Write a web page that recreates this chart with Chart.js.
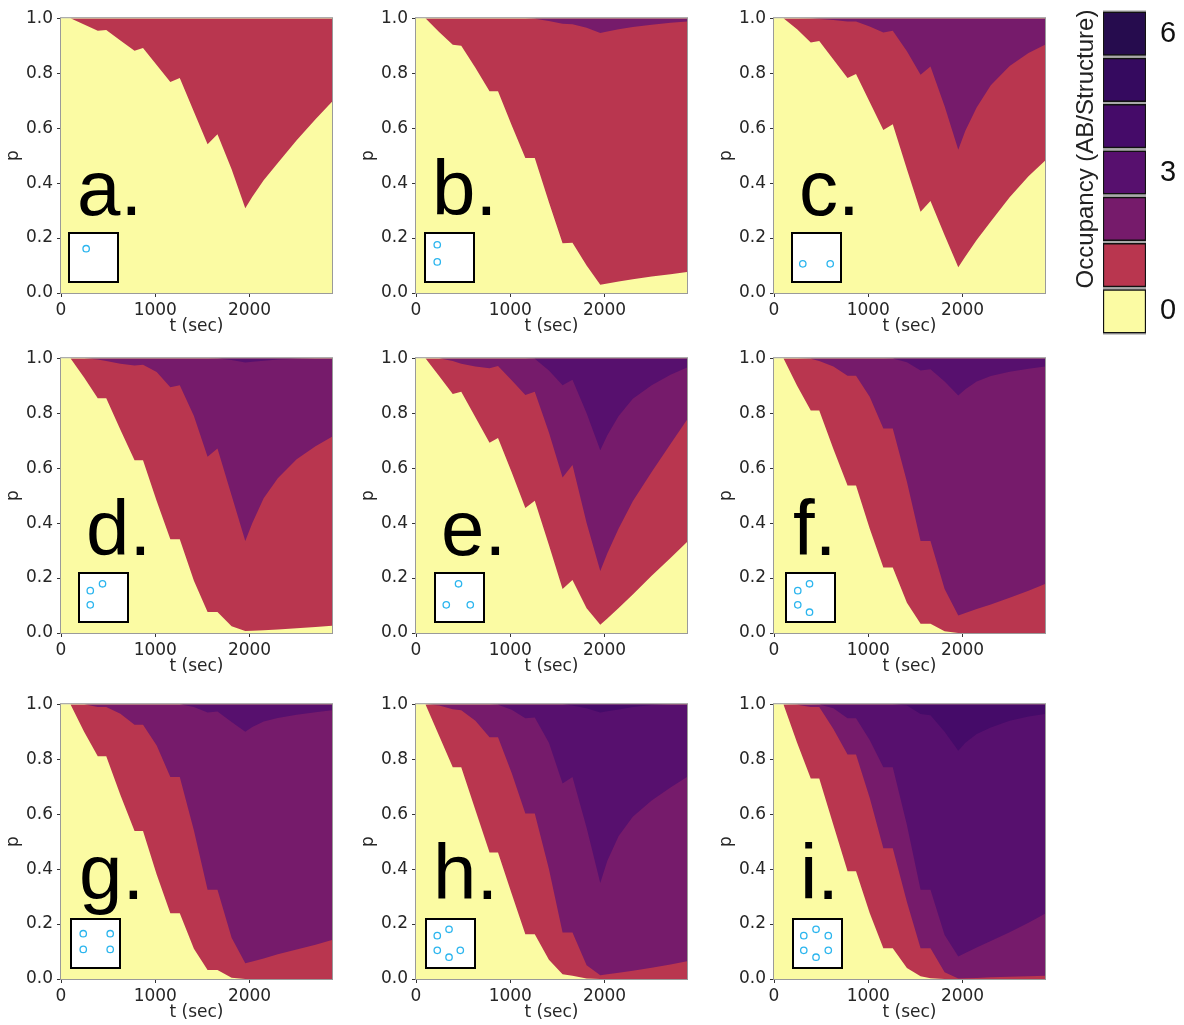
<!DOCTYPE html>
<html>
<head>
<meta charset="utf-8">
<script src="https://cdn.jsdelivr.net/npm/chart.js@4.4.0/dist/chart.umd.min.js"></script>
<style>
body { margin: 0; background: #fff; width: 1184px; height: 1025px; position: relative; overflow: hidden; }
canvas { position: absolute; }
</style>
</head>
<body>
<script>
// time grid shared by every boundary curve (sec)
const times = [0, 100, 245, 390, 480, 630, 780, 870, 1015, 1160, 1260, 1410, 1555, 1660, 1810, 1955, 2030, 2150, 2300, 2500, 2700, 2875];

// p at which occupancy steps up to k (region above the curve has occupancy >= k)
const a1 = [1, 1, 0.977, 0.954, 0.957, 0.919, 0.882, 0.892, 0.830, 0.768, 0.782, 0.66, 0.541, 0.578, 0.45, 0.308, 0.35, 0.41, 0.473, 0.556, 0.632, 0.696];

const b1 = [1, 1, 0.95, 0.903, 0.900, 0.82, 0.734, 0.734, 0.61, 0.491, 0.491, 0.33, 0.181, 0.183, 0.10, 0.030, 0.035, 0.042, 0.05, 0.06, 0.068, 0.076];
const b2 = [1, 1, 1, 1, 1, 1, 1, 1, 1, 1, 0.998, 0.99, 0.98, 0.978, 0.965, 0.946, 0.952, 0.96, 0.968, 0.976, 0.983, 0.988];

const c1 = [1, 1, 0.96, 0.912, 0.917, 0.85, 0.782, 0.797, 0.695, 0.593, 0.614, 0.45, 0.296, 0.335, 0.21, 0.094, 0.133, 0.193, 0.26, 0.348, 0.425, 0.481];
const c2 = [1, 1, 1, 0.999, 0.997, 0.993, 0.988, 0.988, 0.97, 0.948, 0.954, 0.88, 0.794, 0.824, 0.68, 0.521, 0.59, 0.675, 0.756, 0.826, 0.873, 0.903];

const d1 = [1, 1, 0.93, 0.854, 0.854, 0.74, 0.629, 0.629, 0.48, 0.341, 0.341, 0.19, 0.076, 0.076, 0.025, 0.007, 0.008, 0.01, 0.013, 0.017, 0.022, 0.026];
const d2 = [1, 1, 1, 0.995, 0.99, 0.98, 0.973, 0.976, 0.95, 0.894, 0.902, 0.79, 0.641, 0.671, 0.50, 0.335, 0.40, 0.49, 0.563, 0.632, 0.68, 0.714];
const d3 = [1, 1, 1, 1, 1, 1, 1, 1, 1, 1, 1, 1, 1, 0.999, 0.993, 0.984, 0.987, 0.991, 0.995, 0.998, 1, 1];

const e1 = [1, 1, 0.935, 0.870, 0.878, 0.785, 0.692, 0.710, 0.585, 0.455, 0.481, 0.32, 0.160, 0.193, 0.09, 0.030, 0.053, 0.091, 0.14, 0.208, 0.273, 0.331];
const e2 = [1, 1, 1, 0.99, 0.98, 0.97, 0.963, 0.972, 0.92, 0.866, 0.878, 0.73, 0.566, 0.611, 0.40, 0.226, 0.29, 0.38, 0.479, 0.586, 0.688, 0.776];
const e3 = [1, 1, 1, 1, 1, 1, 1, 1, 1, 1, 0.998, 0.955, 0.902, 0.922, 0.80, 0.665, 0.72, 0.79, 0.852, 0.902, 0.94, 0.966];

const f1 = [1, 1, 0.9, 0.81, 0.81, 0.67, 0.537, 0.537, 0.38, 0.238, 0.238, 0.11, 0.034, 0.034, 0.006, 0, 0, 0, 0, 0, 0, 0];
const f2 = [1, 1, 1, 0.998, 0.99, 0.97, 0.936, 0.936, 0.86, 0.744, 0.744, 0.55, 0.335, 0.335, 0.16, 0.064, 0.073, 0.087, 0.104, 0.128, 0.154, 0.178];
const f3 = [1, 1, 1, 1, 1, 1, 1, 1, 1, 1, 0.999, 0.985, 0.955, 0.96, 0.915, 0.864, 0.887, 0.915, 0.935, 0.951, 0.962, 0.97];

const g1 = [1, 1, 0.9, 0.811, 0.811, 0.67, 0.539, 0.539, 0.38, 0.239, 0.239, 0.11, 0.033, 0.033, 0.005, 0, 0, 0, 0, 0, 0, 0];
const g2 = [1, 1, 1, 0.99, 0.99, 0.965, 0.925, 0.925, 0.85, 0.735, 0.735, 0.54, 0.325, 0.325, 0.15, 0.057, 0.064, 0.075, 0.09, 0.107, 0.125, 0.142];
const g3 = [1, 1, 1, 1, 1, 1, 1, 1, 1, 1, 1, 0.99, 0.97, 0.973, 0.935, 0.9, 0.917, 0.937, 0.95, 0.962, 0.971, 0.978];

const h1 = [1, 1, 0.885, 0.771, 0.771, 0.615, 0.46, 0.46, 0.31, 0.163, 0.163, 0.07, 0.017, 0.012, 0.002, 0, 0, 0, 0, 0, 0, 0];
const h2 = [1, 1, 0.995, 0.982, 0.978, 0.94, 0.88, 0.88, 0.75, 0.602, 0.602, 0.40, 0.169, 0.169, 0.05, 0.014, 0.017, 0.023, 0.03, 0.041, 0.053, 0.065];
const h3 = [1, 1, 1, 1, 1, 1, 1, 0.998, 0.98, 0.949, 0.952, 0.86, 0.711, 0.735, 0.55, 0.349, 0.43, 0.52, 0.59, 0.65, 0.697, 0.735];
const h4 = [1, 1, 1, 1, 1, 1, 1, 1, 1, 1, 1, 1, 1, 0.995, 0.985, 0.97, 0.974, 0.981, 0.99, 0.997, 1, 1];

const i1 = [1, 1, 0.86, 0.73, 0.73, 0.56, 0.392, 0.392, 0.24, 0.112, 0.112, 0.04, 0.01, 0.003, 0, 0, 0, 0, 0, 0, 0, 0];
const i2 = [1, 1, 0.998, 0.99, 0.99, 0.91, 0.817, 0.817, 0.66, 0.476, 0.476, 0.28, 0.112, 0.112, 0.025, 0.002, 0.003, 0.004, 0.006, 0.008, 0.01, 0.012];
const i3 = [1, 1, 1, 1, 0.999, 0.985, 0.949, 0.949, 0.87, 0.771, 0.771, 0.56, 0.325, 0.325, 0.16, 0.082, 0.095, 0.115, 0.138, 0.17, 0.205, 0.237];
const i4 = [1, 1, 1, 1, 1, 1, 1, 1, 1, 1, 1, 0.995, 0.964, 0.96, 0.9, 0.831, 0.86, 0.892, 0.915, 0.94, 0.955, 0.964];

const panelBounds = [[a1], [b1, b2], [c1, c2], [d1, d2, d3], [e1, e2, e3], [f1, f2, f3], [g1, g2, g3], [h1, h2, h3, h4], [i1, i2, i3, i4]];
const letters = ['a.', 'b.', 'c.', 'd.', 'e.', 'f.', 'g.', 'h.', 'i.'];
const xTicks = [0, 1000, 2000];
const occLevels = [0, 1, 2, 3, 4, 5, 6];
const occTicks = [0, 3, 6];

// inset: binding sites on the structure, as fractions of the little box
const sites = [
  [[0.35, 0.32]],
  [[0.25, 0.24], [0.25, 0.59]],
  [[0.22, 0.63], [0.78, 0.63]],
  [[0.23, 0.36], [0.48, 0.22], [0.23, 0.65]],
  [[0.48, 0.22], [0.23, 0.65], [0.72, 0.65]],
  [[0.24, 0.36], [0.48, 0.22], [0.24, 0.65], [0.48, 0.80]],
  [[0.25, 0.30], [0.80, 0.30], [0.25, 0.62], [0.80, 0.62]],
  [[0.23, 0.34], [0.47, 0.21], [0.23, 0.64], [0.47, 0.78], [0.70, 0.64]],
  [[0.22, 0.34], [0.47, 0.21], [0.72, 0.34], [0.22, 0.64], [0.47, 0.78], [0.72, 0.64]]
];

// layout
const occColors = ['#fbfba3', '#b9364f', '#761b6b', '#57106e', '#450b69', '#350a5f', '#260c4e'];
const colLeft = [61, 416, 774];
const rowTop = [16, 356, 702];
const plotW = 271, plotH = 277;
const letterX = [16, 16, 25, 25, 25, 19, 18, 17, 26];
const boxX = [8, 9, 18, 18, 19, 12, 10, 10, 19];
const tickFont = { family: 'DejaVu Sans', size: 17 };
const txtColor = '#262626';

function makeCanvas(left, top, w, h) {
  const c = document.createElement('canvas');
  c.width = w; c.height = h;
  c.style.left = left + 'px'; c.style.top = top + 'px';
  document.body.appendChild(c);
  return c;
}

panelBounds.forEach((bounds, pi) => {
  const col = pi % 3, row = Math.floor(pi / 3);
  const cv = makeCanvas(colLeft[col] - 62, rowTop[row] - 12, 62 + plotW + 12, 12 + plotH + 48);
  const n = bounds.length;
  // every level is filled up to the top, higher levels painted over lower ones
  const datasets = bounds.map((b, k) => ({
    data: times.map((t, j) => ({ x: t, y: b[j] })),
    fill: 'end',
    backgroundColor: occColors[k + 1],
    borderColor: 'rgba(0,0,0,0)',
    borderWidth: 0,
    pointRadius: 0,
    tension: 0,
    order: n - k
  }));

  const deco = {
    id: 'deco' + pi,
    beforeDatasetsDraw(chart) {
      const a = chart.chartArea, ctx = chart.ctx;
      ctx.save();
      ctx.fillStyle = occColors[0];
      ctx.fillRect(a.left, a.top, a.right - a.left, a.bottom - a.top);
      ctx.restore();
    },
    afterDraw(chart) {
      const a = chart.chartArea, ctx = chart.ctx;
      ctx.save();
      // panel letter
      ctx.fillStyle = '#000';
      ctx.font = '78px "Liberation Sans", Arial, sans-serif';
      ctx.textBaseline = 'alphabetic';
      ctx.fillText(letters[pi], a.left + letterX[pi], a.bottom - (row === 2 ? 80 : 78));
      // inset box
      const bx = a.left + boxX[pi], by = a.bottom - 11 - 49;
      ctx.fillStyle = '#fff';
      ctx.fillRect(bx, by, 49, 49);
      ctx.strokeStyle = '#000';
      ctx.lineWidth = 2;
      ctx.strokeRect(bx, by, 49, 49);
      ctx.strokeStyle = '#2bb5ee';
      ctx.lineWidth = 1.3;
      sites[pi].forEach(s => {
        ctx.beginPath();
        ctx.arc(bx + s[0] * 49, by + s[1] * 49, 3.2, 0, Math.PI * 2);
        ctx.stroke();
      });
      // frame
      ctx.strokeStyle = '#9a9a9a';
      ctx.lineWidth = 1;
      ctx.strokeRect(a.left - 0.5, a.top - 0.5, a.right - a.left + 1, a.bottom - a.top + 1);
      ctx.restore();
    }
  };

  new Chart(cv.getContext('2d'), {
    type: 'line',
    data: { datasets },
    options: {
      responsive: false,
      animation: false,
      events: [],
      layout: { padding: { top: 12, right: 12, left: 0, bottom: 0 } },
      plugins: { legend: { display: false }, tooltip: { enabled: false } },
      scales: {
        x: {
          type: 'linear', min: 0, max: 2875,
          afterBuildTicks: s => { s.ticks = xTicks.map(v => ({ value: v })); },
          afterFit: s => { s.height = 48; },
          ticks: { font: tickFont, color: txtColor, maxRotation: 0, padding: 3, callback: v => String(v) },
          grid: { drawOnChartArea: false, tickLength: 4, color: '#333' },
          border: { display: false },
          title: { display: true, text: 't (sec)', font: tickFont, color: txtColor, padding: { top: 0, bottom: 4 } }
        },
        y: {
          type: 'linear', min: 0, max: 1,
          afterFit: s => { s.width = 62; },
          ticks: { stepSize: 0.2, font: tickFont, color: txtColor, padding: 4, callback: v => v.toFixed(1) },
          grid: { drawOnChartArea: false, tickLength: 4, color: '#333' },
          border: { display: false },
          title: { display: true, text: 'p', font: tickFont, color: txtColor, padding: { top: 4, bottom: 0 } }
        }
      }
    },
    plugins: [deco]
  });
});

// colour bar; the vertical scale reserves half a label plus tick padding above and below
const cbFont = 29, cbPad = 6;
const cbExtra = cbFont * 1.2 / 2 + cbPad;
const cbTop = 10, cbH = 324;
const cbCanvasTop = Math.round(cbTop - cbExtra);
const cb = makeCanvas(1060, cbCanvasTop, 124, Math.round(cbH + 2 * cbExtra));
const cbDeco = {
  id: 'cbDeco',
  beforeDatasetsDraw(chart) {
    const a = chart.chartArea, ctx = chart.ctx;
    ctx.save();
    ctx.fillStyle = '#a9a9a9';
    ctx.fillRect(a.left, a.top, a.right - a.left, a.bottom - a.top);
    ctx.restore();
  },
  afterDraw(chart) {
    const ctx = chart.ctx;
    ctx.save();
    ctx.translate(26, 149 - cbCanvasTop);
    ctx.rotate(-Math.PI / 2);
    ctx.fillStyle = '#222';
    ctx.font = '24px "Liberation Sans", Arial, sans-serif';
    ctx.textAlign = 'center';
    ctx.textBaseline = 'middle';
    ctx.fillText('Occupancy (AB/Structure)', 0, 0);
    ctx.restore();
  }
};
new Chart(cb.getContext('2d'), {
  type: 'bar',
  data: {
    labels: [''],
    datasets: occLevels.map(k => ({
      data: [[k - 0.47, k + 0.47]],
      backgroundColor: occColors[k],
      borderColor: '#111',
      borderWidth: 1.5,
      borderSkipped: false,
      grouped: false,
      barPercentage: 1,
      categoryPercentage: 1,
      yAxisID: 'y'
    }))
  },
  options: {
    responsive: false,
    animation: false,
    events: [],
    layout: { padding: { left: 43, right: 0, top: 0, bottom: 0 } },
    plugins: { legend: { display: false }, tooltip: { enabled: false } },
    scales: {
      x: { display: false },
      y: {
        position: 'right', min: -0.5, max: 6.5,
        afterFit: s => { s.width = 38; },
        afterBuildTicks: s => { s.ticks = occTicks.map(v => ({ value: v })); },
        ticks: { color: '#111', padding: cbPad, font: { family: '"Liberation Sans", Arial, sans-serif', size: cbFont } },
        grid: { display: false },
        border: { display: false }
      }
    }
  },
  plugins: [cbDeco]
});
</script>
</body>
</html>
